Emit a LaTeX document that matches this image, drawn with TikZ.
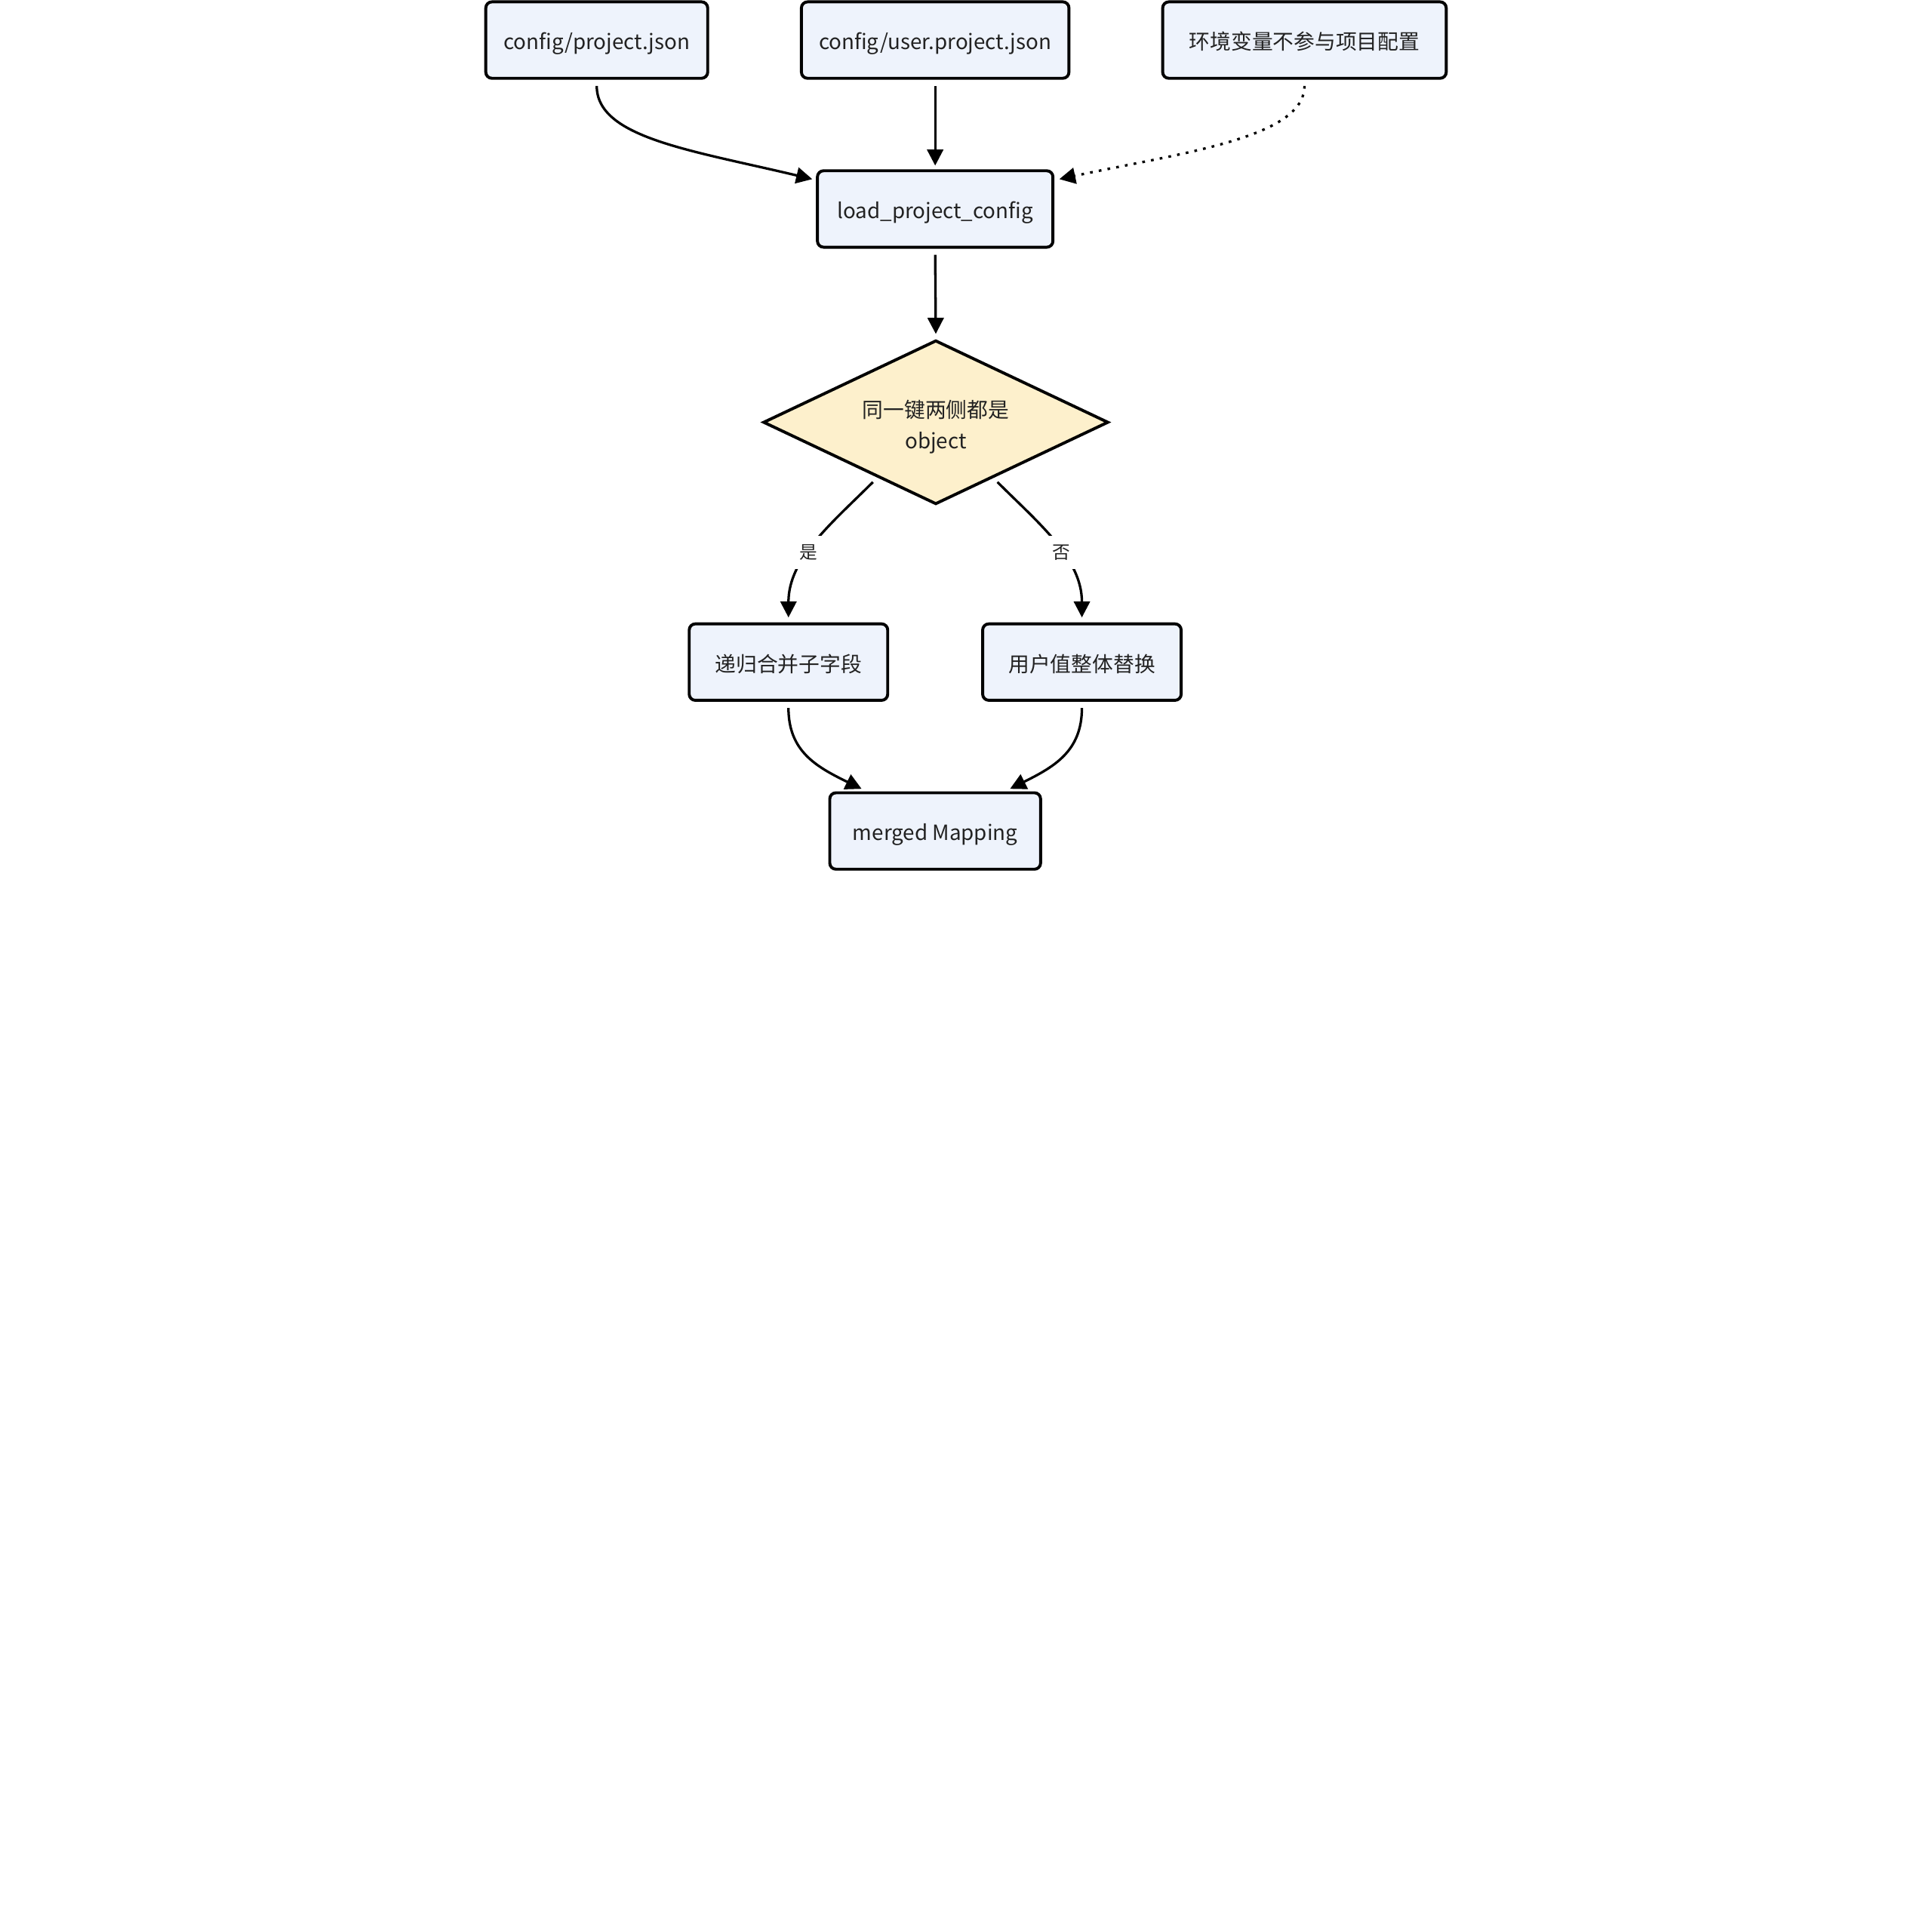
\documentclass[tikz,border=0pt]{standalone}
\usepackage{fontspec}
\setmainfont{Noto Sans CJK SC}
\usetikzlibrary{shapes.geometric,arrows.meta,calc}
\definecolor{boxfill}{HTML}{EEF3FC}
\definecolor{decfill}{HTML}{FDF0CC}
\definecolor{txt}{HTML}{222222}
\begin{document}
\begin{tikzpicture}[x=1bp,y=-1bp,
  box/.style={draw=black,line width=2.4bp,fill=boxfill,rounded corners=5bp,minimum height=62bp,inner sep=0pt,text=txt,text height=18bp,text depth=2.3bp,font=\fontsize{17bp}{22bp}\selectfont},
  dec/.style={draw=black,line width=2.4bp,fill=decfill,shape=diamond,aspect=2.105,minimum width=280bp,minimum height=133bp,inner sep=0pt,text=txt,align=center,font=\fontsize{17bp}{25bp}\selectfont},
  edge/.style={line width=2bp,-{Triangle[length=13bp,width=13bp]}},
  dotedge/.style={edge,dash pattern=on 2.2bp off 5bp},
  lbl/.style={fill=white,inner sep=7bp,text=txt,font=\fontsize{14.5bp}{17bp}\selectfont}]
\useasboundingbox (0,0) rectangle (1567,1567);
\node[box,minimum width=180bp] (A) at (484,32.5) {config/project.json};
\node[box,minimum width=217bp] (B) at (758.5,32.5) {config/user.project.json};
\node[box,minimum width=230bp] (C) at (1058,32.5) {环境变量不参与项目配置};
\node[box,minimum width=191bp] (L) at (758.5,169.5) {load\_project\_config};
\node[dec] (D) at (759,342.5) {\rule{0pt}{21.4bp}同一键两侧都是\\object};
\node[box,minimum width=161bp] (Y) at (639.5,537) {递归合并子字段};
\node[box,minimum width=161bp] (N) at (877.5,537) {用户值整体替换};
\node[box,minimum width=171bp] (M) at (758.5,674) {merged Mapping};
% edges
\draw[edge] ($(A.south)+(0,5)$) .. controls ($(A.south)+(0,47)$) and ($(A.south)+(76,57)$) .. ($(L.north west)+(-3,8)$);
\draw[edge] ($(B.south)+(0,5)$) -- ($(L.north)+(0,-3)$);
\draw[dotedge] ($(C.south)+(0,5)$) .. controls ($(C.south)+(0,47)$) and ($(C.south)+(-98,59)$) .. ($(L.north east)+(4,8)$);
\draw[edge] ($(L.south)+(0,5)$) -- ($(D.north)+(0,-4)$);
\draw[edge] (708,391) .. controls (675,424) and ($(Y.north)+(0,-52)$) .. ($(Y.north)+(0,-4)$);
\draw[edge] (809,391) .. controls (842,424) and ($(N.north)+(0,-52)$) .. ($(N.north)+(0,-4)$);
\node[lbl] (ly) at (656,448) {是};
\node[lbl] (ln) at (861,448) {否};
\draw[edge] ($(Y.south)+(0,5)$) .. controls ($(Y.south)+(0,40)$) and ($(M.north west)+(-10,-20)$) .. ($(M.north west)+(27,-2)$);
\draw[edge] ($(N.south)+(0,5)$) .. controls ($(N.south)+(0,40)$) and ($(M.north east)+(10,-20)$) .. ($(M.north east)+(-26,-2)$);
\end{tikzpicture}
\end{document}
